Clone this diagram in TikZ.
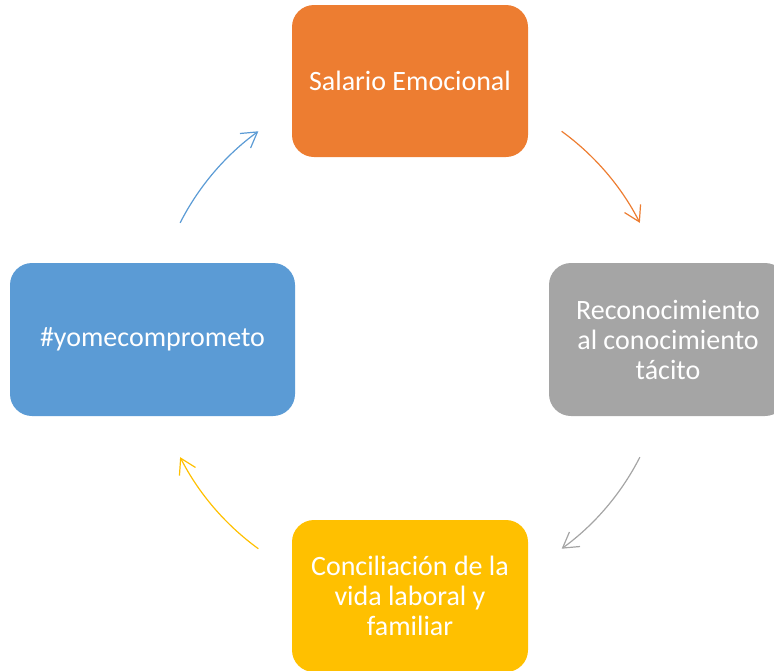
\documentclass[tikz,border=0pt]{standalone}
\usepackage{fontspec}
\setmainfont{Carlito}
\usetikzlibrary{arrows.meta}
\definecolor{cOrange}{HTML}{ED7D31}
\definecolor{cGrey}{HTML}{A5A5A5}
\definecolor{cYellow}{HTML}{FFC000}
\definecolor{cBlue}{HTML}{5B9BD5}
\begin{document}
\begin{tikzpicture}[x=1pt,y=-1pt,
  box/.style={rounded corners=22pt, text=white, inner sep=0pt, align=center,
    font=\fontsize{28}{30}\selectfont},
  cyc/.style={line width=1.2pt, -{Straight Barb[length=15pt,width=18pt,line width=1.2pt]}}]
\useasboundingbox (0,0) rectangle (774,670);
\clip (0,0) rectangle (774,670);
\node[box, fill=cOrange, minimum width=236pt, minimum height=152pt] (top) at (410,81) {Salario Emocional};
\node[box, fill=cGrey, minimum width=238pt, minimum height=153pt] (right) at (668,339.5) {Reconocimiento\\al conocimiento\\tácito};
\node[box, fill=cYellow, minimum width=236pt, minimum height=152pt] (bottom) at (410,596) {Conciliación de la\\vida laboral y\\familiar};
\node[box, fill=cBlue, minimum width=285pt, minimum height=153pt] (left) at (152.5,339.5) {\#yomecomprometo};
\coordinate (c) at (410,340);
\draw[cyc, cOrange] ([shift={(54:258pt)}]c) arc[start angle=54, end angle=27, radius=258pt];
\draw[cyc, cGrey] ([shift={(-27:258pt)}]c) arc[start angle=-27, end angle=-54, radius=258pt];
\draw[cyc, cYellow] ([shift={(234:258pt)}]c) arc[start angle=234, end angle=207, radius=258pt];
\draw[cyc, cBlue] ([shift={(153:258pt)}]c) arc[start angle=153, end angle=126, radius=258pt];
\end{tikzpicture}
\end{document}
